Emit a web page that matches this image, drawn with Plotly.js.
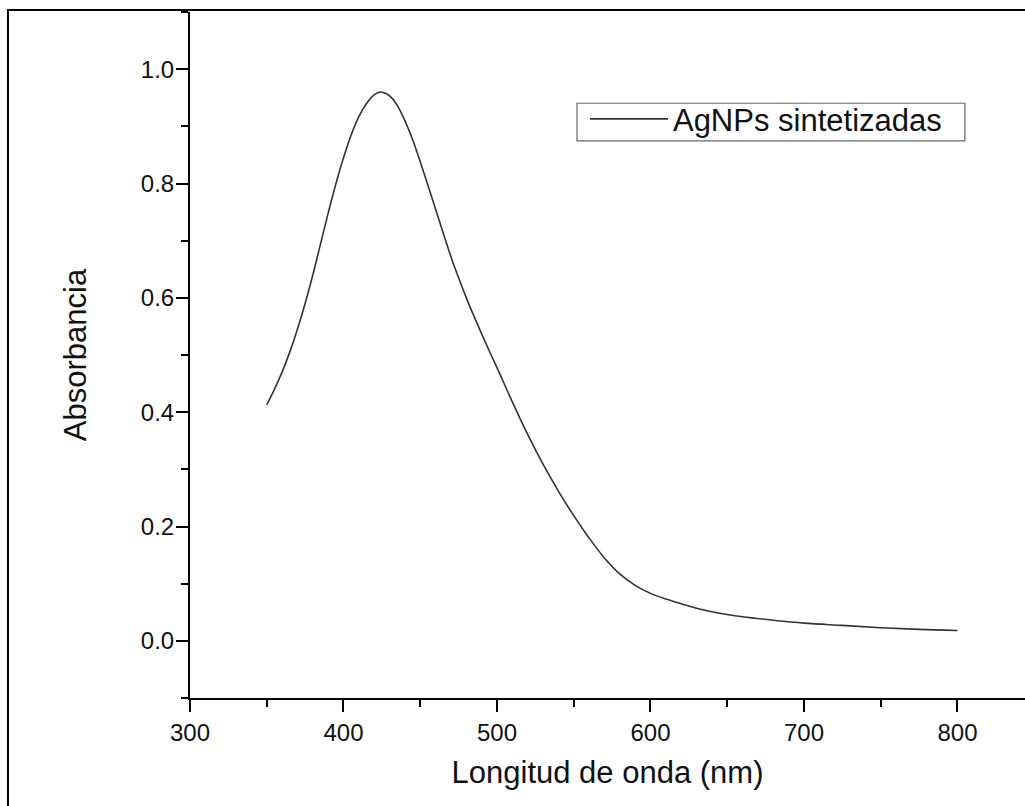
<!DOCTYPE html>
<html>
<head>
<meta charset="utf-8">
<script src="https://cdn.plot.ly/plotly-3.0.1.min.js"></script>
<style>html,body{margin:0;padding:0;background:#fff;}#chart{width:1025px;height:806px;}</style>
</head>
<body>
<div id="chart"></div>
<script>
const wavelength = [350, 355, 360, 365, 370, 375, 380, 385, 390, 395, 400, 405, 410, 415, 420, 424, 428, 432, 436, 440, 445, 450, 455, 460, 465, 470, 475, 480, 485, 490, 495, 500, 510, 520, 530, 540, 550, 560, 570, 580, 590, 600, 610, 620, 630, 640, 650, 660, 680, 700, 725, 750, 775, 800];
const absorbance = [0.413, 0.440, 0.470, 0.505, 0.545, 0.590, 0.640, 0.694, 0.748, 0.799, 0.845, 0.885, 0.917, 0.940, 0.955, 0.960, 0.957, 0.948, 0.932, 0.910, 0.877, 0.838, 0.797, 0.755, 0.713, 0.672, 0.635, 0.600, 0.568, 0.537, 0.507, 0.478, 0.418, 0.361, 0.309, 0.262, 0.219, 0.180, 0.145, 0.117, 0.097, 0.083, 0.073, 0.065, 0.057, 0.051, 0.046, 0.042, 0.036, 0.031, 0.027, 0.023, 0.020, 0.018];
const seriesName = 'AgNPs sintetizadas';
const xTitle = 'Longitud de onda (nm)';
const yTitle = 'Absorbancia';

const font = 'Arial, "Liberation Sans", sans-serif';

const trace = {
  x: wavelength, y: absorbance, type: 'scatter', mode: 'lines', name: seriesName,
  line: {color: '#333333', width: 1.6, shape: 'spline', smoothing: 1.0}
};

const layout = {
  width: 1025, height: 806,
  margin: {l: 190, r: 0, t: 12, b: 108},
  paper_bgcolor: '#ffffff', plot_bgcolor: '#ffffff',
  font: {family: font, color: '#111111'},
  showlegend: true,
  legend: {
    x: 0.473, y: 0.883, xanchor: 'left', yanchor: 'top',
    bgcolor: 'rgba(0,0,0,0)', borderwidth: 0,
    font: {family: font, size: 31, color: '#111111'},
    itemwidth: 78
  },
  xaxis: {
    range: [300, 844], showgrid: false, zeroline: false,
    showline: true, linecolor: '#000000', linewidth: 2,
    ticks: 'outside', ticklen: 12, tickwidth: 2, tickcolor: '#000000',
    tick0: 0, dtick: 100,
    minor: {ticks: 'outside', ticklen: 7, tickwidth: 2, tickcolor: '#000000', dtick: 50, showgrid: false},
    tickfont: {family: font, size: 24, color: '#111111'},
    title: {text: xTitle, font: {family: font, size: 31, color: '#111111'}, standoff: 17}
  },
  yaxis: {
    range: [-0.1, 1.1], showgrid: false, zeroline: false,
    showline: true, linecolor: '#000000', linewidth: 2,
    ticks: 'outside', ticklen: 12, tickwidth: 2, tickcolor: '#000000',
    tick0: 0, dtick: 0.2, tickformat: '.1f', ticklabelstandoff: -3,
    minor: {ticks: 'outside', ticklen: 7, tickwidth: 2, tickcolor: '#000000', dtick: 0.1, showgrid: false},
    tickfont: {family: font, size: 24, color: '#111111'},
    title: {text: yTitle, font: {family: font, size: 31, color: '#111111'}, standoff: 45}
  },
  shapes: [
    {type: 'rect', xref: 'paper', yref: 'paper', x0: -0.218, x1: 1.2, y0: -0.3, y1: 1.003,
     line: {color: '#000000', width: 2}, fillcolor: 'rgba(0,0,0,0)', layer: 'above'},
    {type: 'line', xref: 'paper', yref: 'paper', x0: -0.0085, x1: 0, y0: 0, y1: 0,
     line: {color: '#000000', width: 2}, layer: 'above'},
    {type: 'rect', xref: 'paper', yref: 'paper', x0: 0.4635, x1: 0.928, y0: 0.812, y1: 0.867,
     line: {color: '#666666', width: 1.2}, fillcolor: 'rgba(0,0,0,0)', layer: 'above'}
  ]
};

Plotly.newPlot('chart', [trace], layout, {displayModeBar: false, staticPlot: true});
</script>
</body>
</html>
